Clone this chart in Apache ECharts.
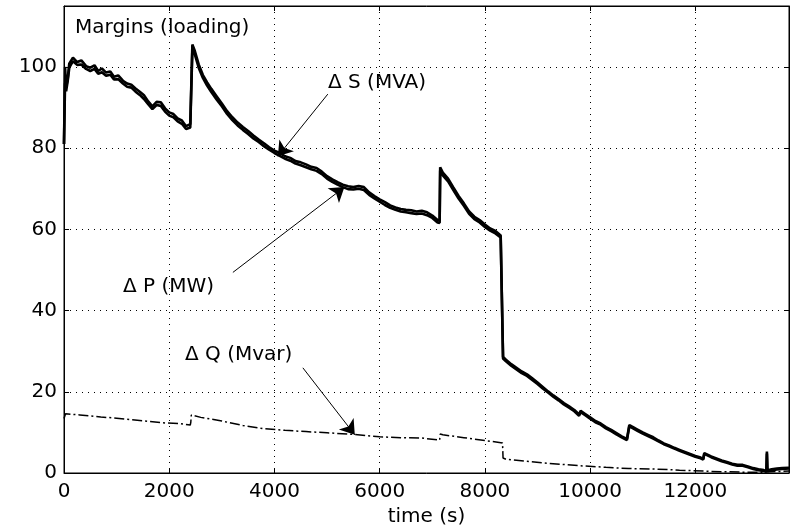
<!DOCTYPE html>
<html><head><meta charset="utf-8">
<script src="https://cdn.jsdelivr.net/npm/echarts@6/dist/echarts.min.js"></script>
<style>html,body{margin:0;padding:0;background:#fff}#c{width:794px;height:526px}</style>
</head><body><div id="c"></div>
<script>
// time stamps (s) shared by ΔS and ΔP
const times = [
 0,20,40,70,100,170,250,330,420,500,
 580,650,720,800,880,950,1030,1120,1200,1280,
 1360,1440,1520,1600,1680,1760,1840,1920,2000,2080,
 2160,2240,2320,2400,2430,2440,2480,2560,2640,2720,
 2800,2900,3000,3100,3200,3300,3400,3500,3600,3700,
 3800,3900,4000,4100,4200,4300,4400,4500,4600,4700,
 4800,4900,5000,5100,5200,5300,5400,5500,5600,5700,
 5800,5900,6000,6100,6200,6300,6400,6500,6600,6700,
 6800,6900,7000,7100,7140,7150,7200,7300,7400,7500,
 7600,7700,7800,7900,8000,8100,8200,8300,8335,8345,
 8400,8500,8600,8700,8800,8900,9000,9100,9200,9300,
 9400,9500,9600,9700,9790,9820,9900,10000,10100,10200,
 10300,10400,10500,10600,10700,10730,10745,10800,10900,11000,
 11100,11200,11300,11400,11500,11600,11700,11800,11900,12000,
 12100,12150,12170,12300,12400,12500,12600,12700,12800,12900,
 13000,13100,13200,13300,13350,13360,13370,13450,13550,13650,
 13780];
// ΔS (MVA)
const deltaS = [
 81,100,95,97,100.8,102.3,101.2,101.6,100.2,99.8,
 100.4,99.0,99.6,98.6,98.9,97.6,97.9,96.6,95.9,95.6,
 94.7,93.9,93.0,91.5,90.3,91.4,91.3,89.8,88.8,88.4,
 87.3,86.8,85.4,85.9,86.3,105.5,104.2,100.6,98.0,96.2,
 94.6,92.8,91.0,89.1,87.6,86.3,85.2,84.2,83.1,82.1,
 81.2,80.2,79.4,78.8,78.0,77.6,76.8,76.5,76.0,75.4,
 75.1,74.2,73.1,72.3,71.6,71.0,70.6,70.4,70.7,70.4,
 69.1,68.2,67.4,66.7,65.9,65.4,65.0,64.8,64.7,64.4,
 64.6,64.2,63.4,62.3,62.2,75.3,74.0,72.5,70.3,68.2,
 66.4,64.4,63.1,62.3,61.2,60.2,59.6,58.5,58.2,28.6,
 27.9,26.8,25.9,25.0,24.3,23.3,22.3,21.2,20.1,19.1,
 18.2,17.2,16.4,15.5,14.4,15.3,14.6,13.7,12.8,12.2,
 11.3,10.6,9.8,9.0,8.4,8.3,11.8,11.4,10.7,10.0,
 9.4,8.8,8.0,7.3,6.8,6.2,5.7,5.2,4.7,4.2,
 3.8,3.5,4.9,4.1,3.6,3.1,2.7,2.3,2.0,2.0,
 1.6,1.2,0.9,0.7,0.5,5.3,0.6,0.9,1.1,1.2,
 1.3];
// ΔP (MW)
const deltaP = [
 81,96,94,96.5,99.8,101.4,100.5,100.6,99.5,99.0,
 99.5,98.3,98.7,97.8,98.1,96.9,97.0,95.9,95.1,94.9,
 93.9,93.1,92.1,90.8,89.6,90.6,90.4,89.0,88.0,87.6,
 86.6,86.0,84.7,85.1,85.5,104.5,103.4,99.8,97.3,95.4,
 93.8,92.0,90.3,88.4,86.9,85.6,84.5,83.5,82.4,81.5,
 80.5,79.6,78.8,78.1,77.4,76.9,76.2,75.8,75.3,74.8,
 74.4,73.6,72.5,71.7,71.0,70.4,69.9,69.8,70.0,69.7,
 68.5,67.6,66.8,66.0,65.3,64.8,64.4,64.2,64.0,63.8,
 63.9,63.5,62.8,61.7,61.6,74.5,73.3,71.8,69.7,67.6,
 65.8,63.8,62.5,61.7,60.6,59.7,59.0,58.0,57.7,28.2,
 27.5,26.4,25.5,24.6,23.9,22.9,21.9,20.8,19.8,18.8,
 17.9,16.9,16.1,15.2,14.1,15.0,14.3,13.4,12.5,11.9,
 11.0,10.3,9.5,8.8,8.1,8.0,11.5,11.1,10.4,9.7,
 9.1,8.5,7.8,7.1,6.6,6.0,5.5,5.0,4.5,4.0,
 3.6,3.3,4.7,3.9,3.4,2.9,2.5,2.1,1.8,1.8,
 1.4,1.0,0.7,0.5,0.3,4.8,0.4,0.7,0.9,1.0,
 1.1];
// ΔQ (Mvar)
const qTimes = [0,30,60,300,700,1000,1300,1600,1950,2200,
 2400,2410,2420,2600,3000,3400,3800,4200,4600,5000,
 5500,6000,6400,6800,7140,7150,7200,7600,8000,8335,
 8345,8400,8800,9200,9800,10300,10730,10745,11200,11700,
 12300,12900,13300,13780];
const deltaQ = [13.4,14.6,14.5,14.3,13.8,13.5,13.1,12.7,12.3,12.2,
 11.8,12.5,14.3,13.7,12.8,11.7,10.9,10.5,10.2,9.9,
 9.5,8.9,8.7,8.6,8.1,9.6,9.4,8.7,8.0,7.4,
 3.7,3.4,2.9,2.4,1.8,1.4,1.1,1.3,1.0,0.7,
 0.4,0.2,0.2,0.5];
const xTicks = [0,2000,4000,6000,8000,10000,12000];
const yTicks = [0,20,40,60,80,100];
// annotation arrows: [fromT, fromV, toT, toV]
const arrowS = [5014, 93.3, 4065, 78.0];
const arrowP = [3210, 49.4, 5330, 70.4];
const arrowQ = [4540, 25.9, 5527, 9.4];

const FONT = '"DejaVu Sans", sans-serif';
const chart = echarts.init(document.getElementById('c'), null, {renderer:'canvas'});
const pair = (t, v) => t.map((x, i) => [x, v[i]]);
const arrow = a => [{coord:[a[0], a[1]], symbol:'none'}, {coord:[a[2], a[3]], symbol:'arrow'}];
const grid = {left:64, top:6, right:5, bottom:53, show:true, borderColor:'#000', borderWidth:1,
  backgroundColor:'#fff', containLabel:false, outerBoundsMode:'none'};
const xBase = {type:'value', min:0, max:13780, interval:2000};
const yBase = {type:'value', min:0, max:115, interval:20};
chart.setOption({
  animation:false,
  backgroundColor:'#fff',
  grid: grid,
  xAxis:[
    Object.assign({}, xBase, {
      position:'bottom',
      name:'time (s)', nameLocation:'middle', nameGap:31,
      nameTextStyle:{color:'#000', fontFamily:FONT, fontSize:20},
      axisLine:{show:true, onZero:false, lineStyle:{color:'#000', width:1}},
      axisTick:{show:true, inside:true, length:5, lineStyle:{color:'#000'}},
      axisLabel:{color:'#000', fontFamily:FONT, fontSize:20, margin:9,
        formatter: v => xTicks.indexOf(v) >= 0 ? String(v) : ''},
      splitLine:{show:true, lineStyle:{color:'#000', width:1, type:[1,5]}}
    }),
    Object.assign({}, xBase, {
      position:'top',
      axisLine:{show:true, onZero:false, lineStyle:{color:'#000'}},
      axisTick:{show:true, inside:true, length:5, lineStyle:{color:'#000'}},
      axisLabel:{show:false}, splitLine:{show:false}
    })
  ],
  yAxis:[
    Object.assign({}, yBase, {
      position:'left',
      axisLine:{show:true, onZero:false, lineStyle:{color:'#000'}},
      axisTick:{show:true, inside:true, length:5, lineStyle:{color:'#000'}},
      axisLabel:{color:'#000', fontFamily:FONT, fontSize:20, margin:7,
        formatter: v => yTicks.indexOf(v) >= 0 ? String(v) : ''},
      splitLine:{show:true, lineStyle:{color:'#000', width:1, type:[1,5]}}
    }),
    Object.assign({}, yBase, {
      position:'right',
      axisLine:{show:true, onZero:false, lineStyle:{color:'#000'}},
      axisTick:{show:true, inside:true, length:5, lineStyle:{color:'#000'}},
      axisLabel:{show:false}, splitLine:{show:false}
    })
  ],
  series:[
    {name:'ΔS (MVA)', type:'line', data:pair(times, deltaS), showSymbol:false, symbol:'none',
     lineStyle:{color:'#000', width:2.6}, z:3},
    {name:'ΔP (MW)', type:'line', data:pair(times, deltaP), showSymbol:false, symbol:'none',
     lineStyle:{color:'#000', width:2.6}, z:3},
    {name:'ΔQ (Mvar)', type:'line', data:pair(qTimes, deltaQ), showSymbol:false, symbol:'none',
     lineStyle:{color:'#000', width:1.5, type:[10,3,2,3]}, z:3,
     markLine:{silent:true, symbolSize:14, animation:false,
       label:{show:false},
       lineStyle:{color:'#000', width:1, type:'solid'},
       data:[arrow(arrowS), arrow(arrowP), arrow(arrowQ)]}}
  ],
  graphic:[
    {type:'text', style:{text:'Margins (loading)', x:75, y:28, fill:'#000', font:'20px '+FONT, verticalAlign:'middle'}, z:10},
    {type:'text', style:{text:'Δ S (MVA)', x:328, y:83, fill:'#000', font:'20px '+FONT, verticalAlign:'middle'}, z:10},
    {type:'text', style:{text:'Δ P (MW)', x:123, y:287, fill:'#000', font:'20px '+FONT, verticalAlign:'middle'}, z:10},
    {type:'text', style:{text:'Δ Q (Mvar)', x:185, y:355, fill:'#000', font:'20px '+FONT, verticalAlign:'middle'}, z:10}
  ]
});
</script></body></html>
